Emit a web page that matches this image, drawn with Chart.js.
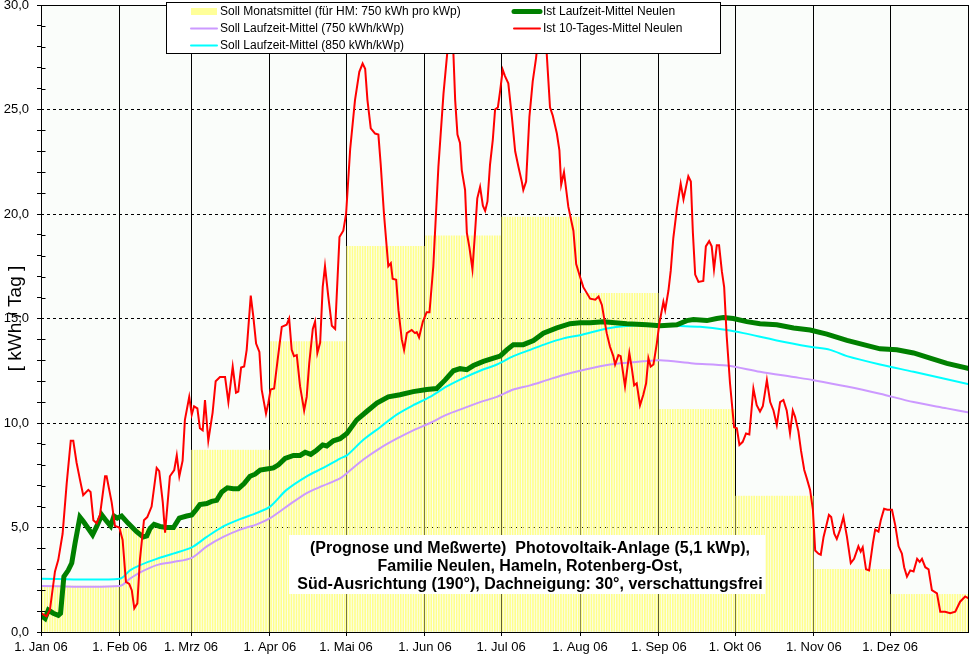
<!DOCTYPE html>
<html>
<head>
<meta charset="utf-8">
<script src="https://cdn.jsdelivr.net/npm/chart.js@4.4.0/dist/chart.umd.min.js"></script>
<style>
    html, body { margin: 0; padding: 0; background: #fff; }
</style>
</head>
<body>
<canvas id="pvChart" width="971" height="659"></canvas>
<script>
// Monatsanfänge (Tag im Jahr) und Beschriftung
const monthDays = [0, 31, 59, 90, 120, 151, 181, 212, 243, 273, 304, 334];
const monthLabels = ["1. Jan 06", "1. Feb 06", "1. Mrz 06", "1. Apr 06", "1. Mai 06", "1. Jun 06",
    "1. Jul 06", "1. Aug 06", "1. Sep 06", "1. Okt 06", "1. Nov 06", "1. Dez 06"];

// Soll Monatsmittel (kWh/Tag)
const sollMonat = [2.2, 4.95, 8.7, 13.9, 18.45, 18.95, 19.85, 16.2, 10.65, 6.5, 3.0, 1.8];

// Soll Laufzeit-Mittel 750 kWh/kWp
const soll750Days = [0, 31, 35, 39, 45.5, 52, 59.3, 65.2, 71.7, 78.3, 84.9, 90.1, 96.6, 104.5, 111, 117.6, 120.3,
    126.8, 133.4, 139.9, 146.4, 153, 159.6, 166.1, 172.7, 179.3, 185.8, 192.4, 198.9, 205.5, 212, 223.8, 236.9,
    243.5, 256.6, 269.7, 282.8, 296, 303.8, 317, 330, 343.2, 356.3, 365];
const soll750Values = [2.2, 2.2, 2.55, 2.85, 3.2, 3.35, 3.55, 4.1, 4.55, 4.9, 5.15, 5.45, 6.0, 6.65, 7.0, 7.35, 7.6,
    8.25, 8.8, 9.25, 9.65, 10.0, 10.4, 10.7, 11.0, 11.25, 11.6, 11.8, 12.05, 12.3, 12.5, 12.8, 12.95,
    13.0, 12.85, 12.75, 12.45, 12.2, 12.05, 11.75, 11.4, 11.0, 10.7, 10.5];

// Soll Laufzeit-Mittel 850 kWh/kWp
const soll850Days = [0, 31, 35, 39, 45.5, 52, 59.3, 65.2, 71.7, 78.3, 84.9, 90.1, 96.6, 104.5, 111, 117.6, 120.3,
    126.8, 133.4, 139.9, 146.4, 153, 159.6, 166.1, 172.7, 179.3, 185.8, 192.4, 198.9, 205.5, 212, 223.8, 236.9,
    243.5, 250.1, 259.2, 269.7, 276.3, 289.4, 302.5, 310.4, 317, 330, 343.2, 365];
const soll850Values = [2.55, 2.55, 2.95, 3.2, 3.5, 3.75, 4.05, 4.55, 5.05, 5.4, 5.7, 6.0, 6.8, 7.45, 7.85, 8.3, 8.45,
    9.2, 9.8, 10.4, 10.85, 11.25, 11.75, 12.15, 12.5, 12.8, 13.2, 13.5, 13.8, 14.05, 14.2, 14.55, 14.7,
    14.7, 14.65, 14.6, 14.45, 14.3, 13.95, 13.65, 13.5, 13.2, 12.8, 12.45, 11.85];

// Ist Laufzeit-Mittel Neulen
const istLaufDays = [0, 1.6, 2.9, 4.8, 6.8, 7.7, 9, 10.7, 12.1, 13.4, 15.3, 16.6, 18.6, 20.3, 21.9, 23.9, 25.8, 27.4,
    28.7, 30, 31.7, 34.3, 37.6, 40.2, 41.6, 42.9, 44.5, 46.8, 49.4, 52.1, 54.4, 57.3, 59.3, 61, 62.5, 65.2, 67.1,
    69.1, 71.1, 73.3, 75.6, 77.6, 79.9, 82.2, 84.2, 86.2, 88.8, 91.4, 93.4, 96, 99.3, 101.9, 103.9, 106.1, 108.4,
    110.8, 112.4, 115, 117.6, 120.3, 124.2, 128.1, 132.1, 136.6, 141.2, 146.4, 151.7, 155.6, 158.9, 162.2, 164.8,
    167.5, 170.1, 174, 178, 180.6, 183.2, 185.8, 189.7, 193.7, 197.6, 202.9, 208.1, 212, 216, 221.2, 230.4, 238.3,
    243.5, 250.1, 254, 256.6, 261.9, 265.8, 268.4, 272.3, 277.6, 282.8, 289.4, 296, 302.5, 309.1, 317, 330, 336.6,
    343.2, 349.7, 356.3, 365];
const istLaufValues = [0.8, 0.65, 1.05, 0.9, 0.8, 0.9, 2.65, 2.95, 3.3, 4.25, 5.5, 5.3, 4.95, 4.65, 5.05, 5.6, 5.3, 5.07,
    5.55, 5.45, 5.55, 5.2, 4.8, 4.55, 4.6, 4.95, 5.15, 5.05, 5.0, 5.0, 5.45, 5.55, 5.6, 5.85, 6.1, 6.15, 6.25,
    6.3, 6.7, 6.9, 6.85, 6.85, 7.1, 7.45, 7.55, 7.75, 7.8, 7.85, 8.0, 8.3, 8.45, 8.45, 8.6, 8.5, 8.7,
    8.95, 8.9, 9.15, 9.25, 9.5, 10.15, 10.55, 10.95, 11.25, 11.35, 11.5, 11.6, 11.65, 12.05, 12.5, 12.6,
    12.55, 12.75, 12.95, 13.1, 13.2, 13.5, 13.75, 13.75, 13.95, 14.3, 14.55, 14.75, 14.8, 14.8, 14.85, 14.75, 14.7,
    14.65, 14.7, 14.9, 14.95, 14.9, 15.0, 15.05, 15.0, 14.85, 14.75, 14.7, 14.55, 14.45, 14.25, 13.95, 13.55, 13.5,
    13.35, 13.1, 12.85, 12.6];

// Ist 10-Tages-Mittel Neulen
const ist10Days = [0, 2.2, 3.5, 5.5, 6.8, 8.5, 10.1, 11.7, 12.7, 14, 15.3, 16.6, 18.6, 19.5, 20.6, 21.9, 23.2, 25.2,
    25.8, 27.8, 29.1, 30.8, 32.1, 33.4, 34.7, 35.7, 36.7, 37.9, 38.9, 40.5, 41.8, 43.5, 45.5, 46.5, 47.9, 48.8,
    50.7, 52.4, 53.4, 54.4, 55.7, 56.6, 58.3, 59.3, 60.2, 61.5, 62.5, 63.6, 64.5, 65.8, 67.5, 68.7, 70.4, 72.4,
    73.7, 75.4, 76.7, 77.6, 78.7, 79.9, 80.9, 82.5, 83.5, 84.6, 85.9, 86.8, 88.5, 89.4, 90.3, 91.7, 93, 94.7,
    96.6, 97.6, 98.6, 99.5, 100.6, 101.9, 103.5, 104.5, 105.5, 106.9, 107.8, 108.7, 109.8, 110.8, 111.7, 113,
    114.4, 115.7, 117.4, 118.9, 120, 121.6, 123.5, 125.2, 126.5, 127.5, 128.4, 129.7, 131.4, 132.7, 133.6, 134.9,
    136.6, 137.6, 138.3, 139.7, 140.6, 141.9, 142.8, 143.9, 145.8, 147.1, 147.8, 148.7, 150.2, 151.7, 152.8,
    154.3, 156.3, 158.3, 159.9, 161, 162.2, 162.9, 163.8, 164.8, 165.5, 166.8, 167.5, 168.5, 169.7, 170.7, 171.6,
    172.7, 173.8, 174.7, 175.6, 176.6, 177.7, 178.6, 179.7, 180.6, 181.6, 182.5, 183.8, 185.2, 186.5, 187.8,
    189.1, 189.7, 190.8, 192.1, 193.4, 194.7, 196.5, 198.9, 200.2, 201.3, 202.9, 203.9, 204.6, 205.7, 207.4,
    209.4, 210.5, 212, 213.3, 216, 218, 219.3, 220.6, 222.5, 223.8, 225.1, 225.8, 227.1, 228, 229.7, 231.4,
    232.4, 233.3, 234.3, 235.6, 236.9, 238, 238.9, 239.8, 240.9, 242.2, 243.2, 244.8, 245.5, 246.8, 247.7,
    248.7, 250.1, 251.6, 252.7, 253.7, 254.6, 255.6, 256.4, 257.3, 258.6, 260.5, 261.5, 262.8, 263.8, 264.7,
    265.8, 266.7, 267.8, 268.7, 269.7, 271, 272.6, 273.7, 274.7, 276, 277.3, 278.6, 280.2, 281.5, 282.8, 283.9,
    285.5, 286.8, 288.1, 289.4, 290.7, 292, 293.3, 294.6, 295.7, 296.6, 297.9, 298.9, 300.2, 301.2, 302.5,
    303.6, 304.5, 305.8, 306.7, 307.8, 308.8, 309.9, 310.8, 312, 313, 314.3, 315.6, 317, 318.5, 319.8, 321.5,
    322.4, 323.2, 324.5, 325.7, 327.2, 328.1, 329.4, 330.3, 331.6, 332.9, 334.7, 336, 337.3, 338.6, 339.5,
    340.6, 341.9, 343.2, 344.6, 345.6, 346.5, 347.8, 349.1, 350.4, 352.4, 353.7, 355.6, 357.6, 359.6, 361.5,
    363.5, 365];
const ist10Values = [0.9, 0.75, 1.05, 2.9, 3.45, 4.7, 7.1, 9.15, 9.15, 8.1, 7.3, 6.55, 6.8, 6.7, 5.35, 5.2, 5.6, 7.45,
    7.45, 6.2, 5.07, 5.0, 4.4, 2.4, 2.3, 2.0, 1.13, 1.37, 3.45, 5.35, 5.5, 6.0, 7.85, 7.7, 6.2, 4.75,
    7.45, 7.75, 8.45, 7.45, 8.2, 10.15, 11.25, 10.4, 10.8, 10.7, 9.75, 9.65, 11.1, 9.15, 10.5, 12.0, 12.2, 12.2,
    11.0, 12.7, 11.45, 11.5, 12.65, 12.7, 13.5, 16.1, 15.1, 13.8, 13.4, 11.6, 10.45, 10.95, 11.6, 11.65, 12.95, 14.6,
    14.7, 15.0, 13.5, 13.2, 13.25, 11.75, 10.6, 11.25, 12.85, 14.5, 14.85, 13.35, 13.85, 16.5, 17.5, 16.05,
    14.65, 14.5, 18.9, 19.2, 20.0, 23.1, 25.45, 26.8, 27.2, 26.95, 25.45, 24.1, 23.85, 23.8, 22.4, 20.0,
    17.5, 17.65, 16.9, 16.85, 15.4, 14.0, 13.5, 14.3, 14.45, 14.3, 14.35, 14.1, 14.85, 15.3, 15.3,
    17.5, 22.25, 25.75, 27.85, 29.8, 27.7, 25.45, 23.8, 23.4, 22.1, 21.15, 19.1, 18.4, 17.35, 19.1, 20.75,
    21.3, 20.4, 20.15, 20.6, 22.35, 23.55, 25.0, 25.1, 25.9, 26.9, 26.6, 26.25, 24.65, 23.0, 22.25,
    21.55, 21.15, 21.55, 24.65, 26.35, 27.45, 29.5, 27.7, 25.1, 24.7, 23.85, 23.05, 21.4, 22.0, 20.35,
    19.2, 17.6, 17.0, 16.5, 15.95, 15.9, 16.05, 15.65, 14.3, 13.65, 13.2, 12.8, 13.25, 13.2, 11.75, 13.35,
    12.6, 11.8, 11.9, 10.85, 11.35, 11.9, 13.1, 12.7, 12.8, 13.8, 14.75, 15.8, 15.4, 16.35, 17.3,
    18.85, 20.25, 21.45, 20.7, 21.3, 21.8, 21.55, 19.1, 17.1, 16.75, 16.8, 18.45, 18.7, 18.45, 17.35,
    18.5, 18.5, 17.25, 16.5, 14.15, 11.9, 9.8, 9.75, 8.95, 9.1, 9.5, 9.45, 11.65, 10.85, 10.55, 10.8,
    12.05, 11.0, 10.6, 9.9, 11.0, 11.1, 10.6, 9.5, 10.6, 10.3, 9.6, 8.7, 7.75, 7.35, 6.8,
    5.85, 3.9, 3.75, 3.7, 4.55, 5.05, 5.6, 5.5, 4.7, 4.45, 4.9, 5.5, 4.55, 3.3, 3.5, 4.1,
    3.85, 4.05, 3.0, 2.95, 4.25, 4.9, 4.8, 5.35, 5.9, 5.85, 5.85, 5.1, 4.1, 3.75, 3.1,
    2.65, 2.95, 2.9, 3.5, 3.35, 3.5, 3.1, 3.0, 2.0, 1.85, 0.97, 0.97, 0.9, 0.97, 1.45,
    1.7, 1.6];

const yTitle = "[ kWh / Tag ]";
const infoLines = [
    "(Prognose und Meßwerte)  Photovoltaik-Anlage (5,1 kWp),",
    "Familie Neulen, Hameln, Rotenberg-Ost,",
    "Süd-Ausrichtung (190°), Dachneigung: 30°, verschattungsfrei"
];

const fontFamily = "'Liberation Sans', Arial, sans-serif";

function toPoints(days, values) {
    return days.map((d, i) => ({ x: d, y: values[i] }));
}

// Tageswerte des Monatsmittels (ein Balken pro Tag)
const monthBars = [];
for (let d = 0; d < 365; d++) {
    let m = 0;
    while (m < monthDays.length - 1 && monthDays[m + 1] <= d) m++;
    monthBars.push({ x: d + 0.5, y: sollMonat[m] });
}

const plotBackground = {
    id: "plotBackground",
    beforeDraw(chart) {
        const { ctx, chartArea: a } = chart;
        ctx.save();
        ctx.fillStyle = "#fafdfa";
        ctx.fillRect(a.left, a.top, a.right - a.left, a.bottom - a.top);
        ctx.restore();
    }
};

const overlay = {
    id: "overlay",
    afterDatasetsDraw(chart) {
        const { ctx, chartArea: a } = chart;
        const yScale = chart.scales.y;
        ctx.save();

        // Rahmen
        ctx.strokeStyle = "#000";
        ctx.lineWidth = 1;
        const l = Math.round(a.left) + 0.5, t = Math.round(a.top) + 0.5;
        const r = Math.round(a.right) - 0.5, b = Math.round(a.bottom) + 0.5;
        ctx.strokeRect(l, t, r - l, b - t);

        // kleine Striche nach innen
        ctx.beginPath();
        for (let v = 1; v < 30; v++) {
            if (v % 5 === 0) continue;
            const y = Math.round(yScale.getPixelForValue(v)) + 0.5;
            ctx.moveTo(l, y);
            ctx.lineTo(l + 4, y);
        }
        ctx.stroke();

        // Textkasten
        ctx.fillStyle = "#fff";
        ctx.fillRect(289, 535, 476, 59);
        ctx.fillStyle = "#000";
        ctx.font = "bold 16px " + fontFamily;
        ctx.textAlign = "center";
        ctx.textBaseline = "middle";
        infoLines.forEach((line, i) => ctx.fillText(line, 530, 549 + i * 18));

        // Legende
        const box = { x: 166, y: 2, w: 554, h: 51 };
        ctx.fillStyle = "#fff";
        ctx.fillRect(box.x, box.y, box.w, box.h);
        ctx.strokeStyle = "#000";
        ctx.strokeRect(box.x + 0.5, box.y + 0.5, box.w, box.h);
        const colX = [191, 514];
        const rowY = [11, 28, 45];
        ctx.font = "12px " + fontFamily;
        ctx.textAlign = "left";
        chart.data.datasets.forEach((ds, i) => {
            const col = i < 3 ? 0 : 1;
            const row = i < 3 ? i : i - 3;
            const x = colX[col], y = rowY[row];
            if (ds.type === "bar") {
                ctx.fillStyle = ds.legendColor;
                ctx.fillRect(x, y - 3, 26, 7);
            } else {
                ctx.strokeStyle = ds.borderColor;
                ctx.lineWidth = ds.borderWidth;
                ctx.lineCap = "round";
                ctx.beginPath();
                ctx.moveTo(x, y + 0.5);
                ctx.lineTo(x + 26, y + 0.5);
                ctx.stroke();
            }
            ctx.fillStyle = "#000";
            ctx.fillText(ds.label, x + 29, y + 1);
        });
        ctx.restore();
    }
};

const ctx = document.getElementById("pvChart").getContext("2d");

new Chart(ctx, {
    type: "line",
    data: {
        datasets: [
            {
                type: "bar",
                label: "Soll Monatsmittel (für HM: 750 kWh pro kWp)",
                data: monthBars,
                backgroundColor: "#ffff8c",
                legendColor: "#ffff99",
                barThickness: 1,
                order: 5
            },
            {
                label: "Soll Laufzeit-Mittel (750 kWh/kWp)",
                data: toPoints(soll750Days, soll750Values),
                borderColor: "#cc99ff",
                borderWidth: 2,
                pointRadius: 0,
                tension: 0.3,
                order: 4
            },
            {
                label: "Soll Laufzeit-Mittel (850 kWh/kWp)",
                data: toPoints(soll850Days, soll850Values),
                borderColor: "#00ffff",
                borderWidth: 2,
                pointRadius: 0,
                tension: 0.3,
                order: 3
            },
            {
                label: "Ist Laufzeit-Mittel Neulen",
                data: toPoints(istLaufDays, istLaufValues),
                borderColor: "#008000",
                borderWidth: 5,
                pointRadius: 0,
                tension: 0,
                order: 2
            },
            {
                label: "Ist 10-Tages-Mittel Neulen",
                data: toPoints(ist10Days, ist10Values),
                borderColor: "#ff0000",
                borderWidth: 2,
                pointRadius: 0,
                tension: 0,
                order: 1
            }
        ]
    },
    options: {
        responsive: false,
        animation: false,
        events: [],
        layout: { padding: { top: 5, right: 2, left: 0, bottom: 0 } },
        plugins: {
            legend: { display: false },
            tooltip: { enabled: false }
        },
        scales: {
            x: {
                type: "linear",
                min: 0,
                max: 365,
                offset: false,
                border: { display: false },
                grid: { offset: false, color: "#000", lineWidth: 1, tickColor: "#000", tickLength: 4 },
                afterBuildTicks: s => { s.ticks = monthDays.map(v => ({ value: v })); },
                afterFit: s => {
                    s.height = 27;
                    s.paddingLeft = 0;
                    s.paddingRight = 0;
                },
                ticks: {
                    autoSkip: false,
                    maxRotation: 0,
                    padding: 4,
                    color: "#000",
                    font: { family: fontFamily, size: 13 },
                    callback: v => monthLabels[monthDays.indexOf(v)]
                }
            },
            y: {
                min: 0,
                max: 30,
                border: { display: false, dash: [3, 3] },
                grid: {
                    color: c => (c.tick && c.tick.value % 5 === 0 && c.tick.value > 0 && c.tick.value < 30) ? "#000" : "rgba(0,0,0,0)",
                    tickColor: "#000",
                    tickLength: 4
                },
                afterFit: s => {
                    s.width = 41;
                    s.paddingTop = 0;
                    s.paddingBottom = 0;
                },
                ticks: {
                    stepSize: 1,
                    autoSkip: false,
                    padding: 8,
                    color: "#000",
                    font: { family: fontFamily, size: 13 },
                    callback: v => v % 5 === 0 ? v.toFixed(1).replace(".", ",") : ""
                },
                title: {
                    display: true,
                    text: yTitle,
                    color: "#000",
                    font: { family: fontFamily, size: 19 },
                    padding: { top: 4, bottom: 0 }
                }
            }
        }
    },
    plugins: [plotBackground, overlay]
});
</script>
</body>
</html>
